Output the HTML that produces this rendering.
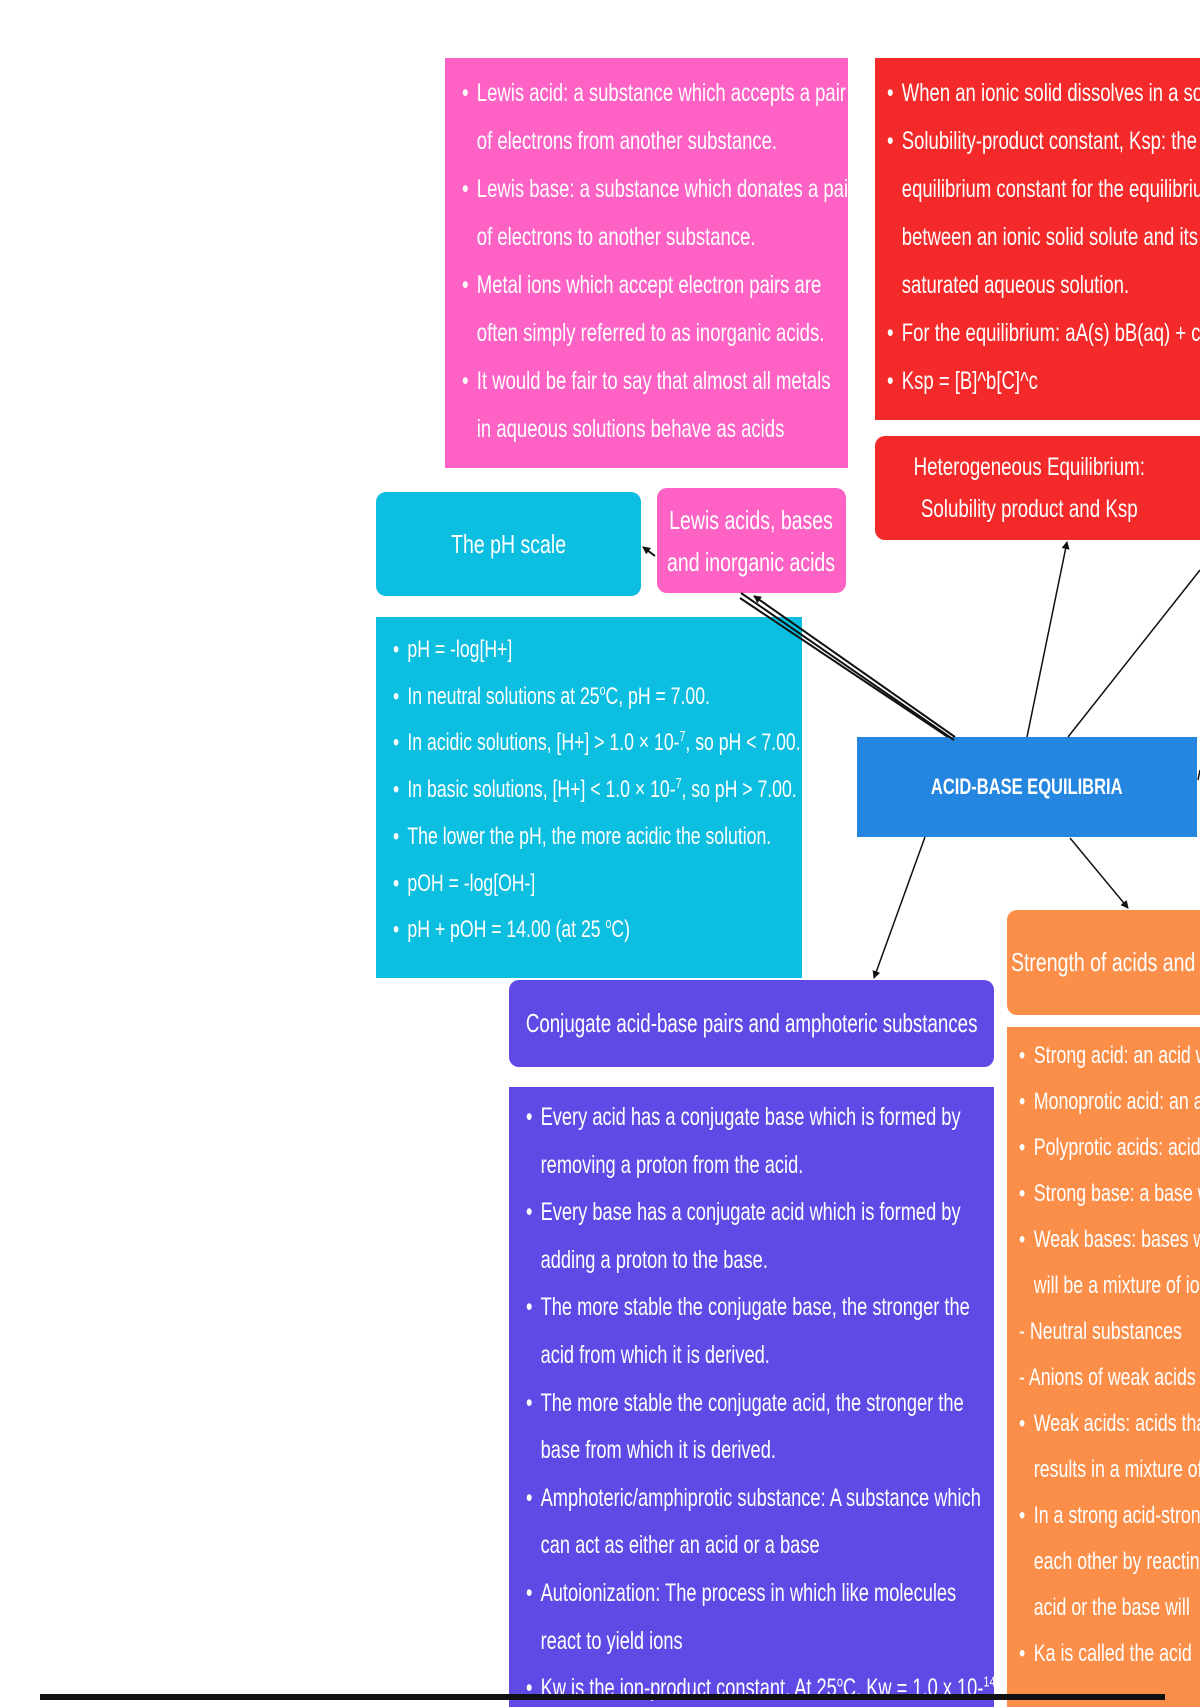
<!DOCTYPE html>
<html><head><meta charset="utf-8"><style>
html,body{margin:0;padding:0;}
body{width:1200px;height:1700px;position:relative;overflow:hidden;background:#fff;font-family:"Liberation Sans Narrow","Liberation Sans",sans-serif;color:#fff;}
.b{position:absolute;box-sizing:border-box;overflow:hidden;white-space:nowrap;}
.r{border-radius:10px;}
.c{display:flex;align-items:center;justify-content:center;text-align:center;flex-direction:column;}
.sx{display:inline-block;transform:scaleX(.75);transform-origin:center;}
ul{list-style:none;margin:0;padding:0;transform:scaleX(.74);transform-origin:left top;width:140%;}
li{position:relative;padding-left:20px;}
li:before{content:"•";position:absolute;left:0;}
li.s{padding-left:0}
li.s:before{content:""}
.pk{background:#fd62c4;}
.rd{background:#f42a2a;}
.cy{background:#0cbfe0;}
.bl{background:#2586e0;}
.or{background:#fb8f4a;}
.pu{background:#5f4ae6;}
sup{font-size:60%;line-height:0}
</style></head><body>

<div class="b pk" style="left:445px;top:58px;width:403px;height:410px;padding:11px 0 0 17px;font-size:25px;line-height:48px;">
<ul>
<li>Lewis acid: a substance which accepts a pair<br>of electrons from another substance.</li>
<li>Lewis base: a substance which donates a pair<br>of electrons to another substance.</li>
<li>Metal ions which accept electron pairs are<br>often simply referred to as inorganic acids.</li>
<li>It would be fair to say that almost all metals<br>in aqueous solutions behave as acids</li>
</ul></div>

<div class="b rd" style="left:875px;top:58px;width:330px;height:362px;padding:11px 0 0 12px;font-size:25px;line-height:48px;">
<ul>
<li>When an ionic solid dissolves in a solution</li>
<li>Solubility-product constant, Ksp: the<br>equilibrium constant for the equilibrium<br>between an ionic solid solute and its<br>saturated aqueous solution.</li>
<li>For the equilibrium: aA(s) bB(aq) + cC(aq)</li>
<li>Ksp = [B]^b[C]^c</li>
</ul></div>

<div class="b rd r" style="left:875px;top:436px;width:340px;height:104px;font-size:25px;line-height:42px;">
<div style="position:absolute;left:0;width:290px;text-align:center;top:10px;"><span class="sx">Heterogeneous Equilibrium:<br>Solubility product and Ksp</span></div></div>

<div class="b cy r c" style="left:376px;top:492px;width:265px;height:104px;font-size:26px;"><span class="sx">The pH scale</span></div>
<div class="b pk r c" style="left:657px;top:488px;width:189px;height:105px;font-size:26px;line-height:42px;"><span class="sx">Lewis acids, bases<br>and inorganic acids</span></div>

<div class="b cy" style="left:376px;top:617px;width:426px;height:361px;padding:10px 0 0 17px;font-size:24.5px;line-height:46.7px;">
<ul style="transform:scaleX(.72)">
<li>pH = -log[H+]</li>
<li>In neutral solutions at 25<sup>o</sup>C, pH = 7.00.</li>
<li>In acidic solutions, [H+] &gt; 1.0 × 10-<sup>7</sup>, so pH &lt; 7.00.</li>
<li>In basic solutions, [H+] &lt; 1.0 × 10-<sup>7</sup>, so pH &gt; 7.00.</li>
<li>The lower the pH, the more acidic the solution.</li>
<li>pOH = -log[OH-]</li>
<li>pH + pOH = 14.00 (at 25 <sup>o</sup>C)</li>
</ul></div>

<div class="b bl c" style="left:857px;top:737px;width:340px;height:100px;font-size:22px;font-weight:bold;"><span class="sx">ACID-BASE EQUILIBRIA</span></div>

<div class="b or r" style="left:1007px;top:910px;width:220px;height:105px;font-size:26px;line-height:105px;padding-left:4px;"><span class="sx" style="transform-origin:left">Strength of acids and bases</span></div>

<div class="b or" style="left:1007px;top:1027px;width:200px;height:680px;padding:6px 0 0 12px;font-size:24px;line-height:46px;">
<ul>
<li>Strong acid: an acid which</li>
<li>Monoprotic acid: an acid</li>
<li>Polyprotic acids: acids</li>
<li>Strong base: a base which</li>
<li>Weak bases: bases which<br>will be a mixture of ions</li>
<li class="s">- Neutral substances</li>
<li class="s">- Anions of weak acids</li>
<li>Weak acids: acids that<br>results in a mixture of</li>
<li>In a strong acid-strong<br>each other by reacting<br>acid or the base will</li>
<li>Ka is called the acid</li>
</ul></div>

<div class="b pu r c" style="left:509px;top:980px;width:485px;height:87px;font-size:26px;"><span class="sx" style="transform:scaleX(.72)">Conjugate acid-base pairs and amphoteric substances</span></div>

<div class="b pu" style="left:509px;top:1087px;width:485px;height:620px;padding:7px 0 0 17px;font-size:25px;line-height:47.6px;">
<ul style="transform:scaleX(.73)">
<li>Every acid has a conjugate base which is formed by<br>removing a proton from the acid.</li>
<li>Every base has a conjugate acid which is formed by<br>adding a proton to the base.</li>
<li>The more stable the conjugate base, the stronger the<br>acid from which it is derived.</li>
<li>The more stable the conjugate acid, the stronger the<br>base from which it is derived.</li>
<li>Amphoteric/amphiprotic substance: A substance which<br>can act as either an acid or a base</li>
<li>Autoionization: The process in which like molecules<br>react to yield ions</li>
<li>Kw is the ion-product constant. At 25<sup>o</sup>C, Kw = 1.0 x 10-<sup>14</sup></li>
</ul></div>

<svg width="1200" height="1700" style="position:absolute;left:0;top:0" xmlns="http://www.w3.org/2000/svg">
<defs><marker id="a" markerWidth="8" markerHeight="8" refX="7" refY="4" orient="auto" markerUnits="userSpaceOnUse"><path d="M0,0 L8,4 L0,8 z" fill="#111"/></marker></defs>
<g stroke="#111" stroke-width="2" fill="none">
<line x1="955" y1="737" x2="754" y2="596" marker-end="url(#a)"/>
<line x1="948" y1="737" x2="740" y2="598"/>
<line x1="954" y1="740" x2="741" y2="593"/>
<line x1="655" y1="556" x2="643" y2="547" marker-end="url(#a)"/>
<line x1="1027" y1="737" x2="1067" y2="542" stroke-width="1.5" marker-end="url(#a)"/>
<line x1="1068" y1="737" x2="1200" y2="570" stroke-width="1.5"/>
<line x1="925" y1="837" x2="874" y2="978" stroke-width="1.5" marker-end="url(#a)"/>
<line x1="1070" y1="838" x2="1128" y2="908" stroke-width="1.5" marker-end="url(#a)"/>
<line x1="1200" y1="770" x2="1198" y2="780" stroke-width="1.5"/>
</g>
<rect x="40" y="1694" width="1125" height="6" fill="#111"/>
</svg>
</body></html>
